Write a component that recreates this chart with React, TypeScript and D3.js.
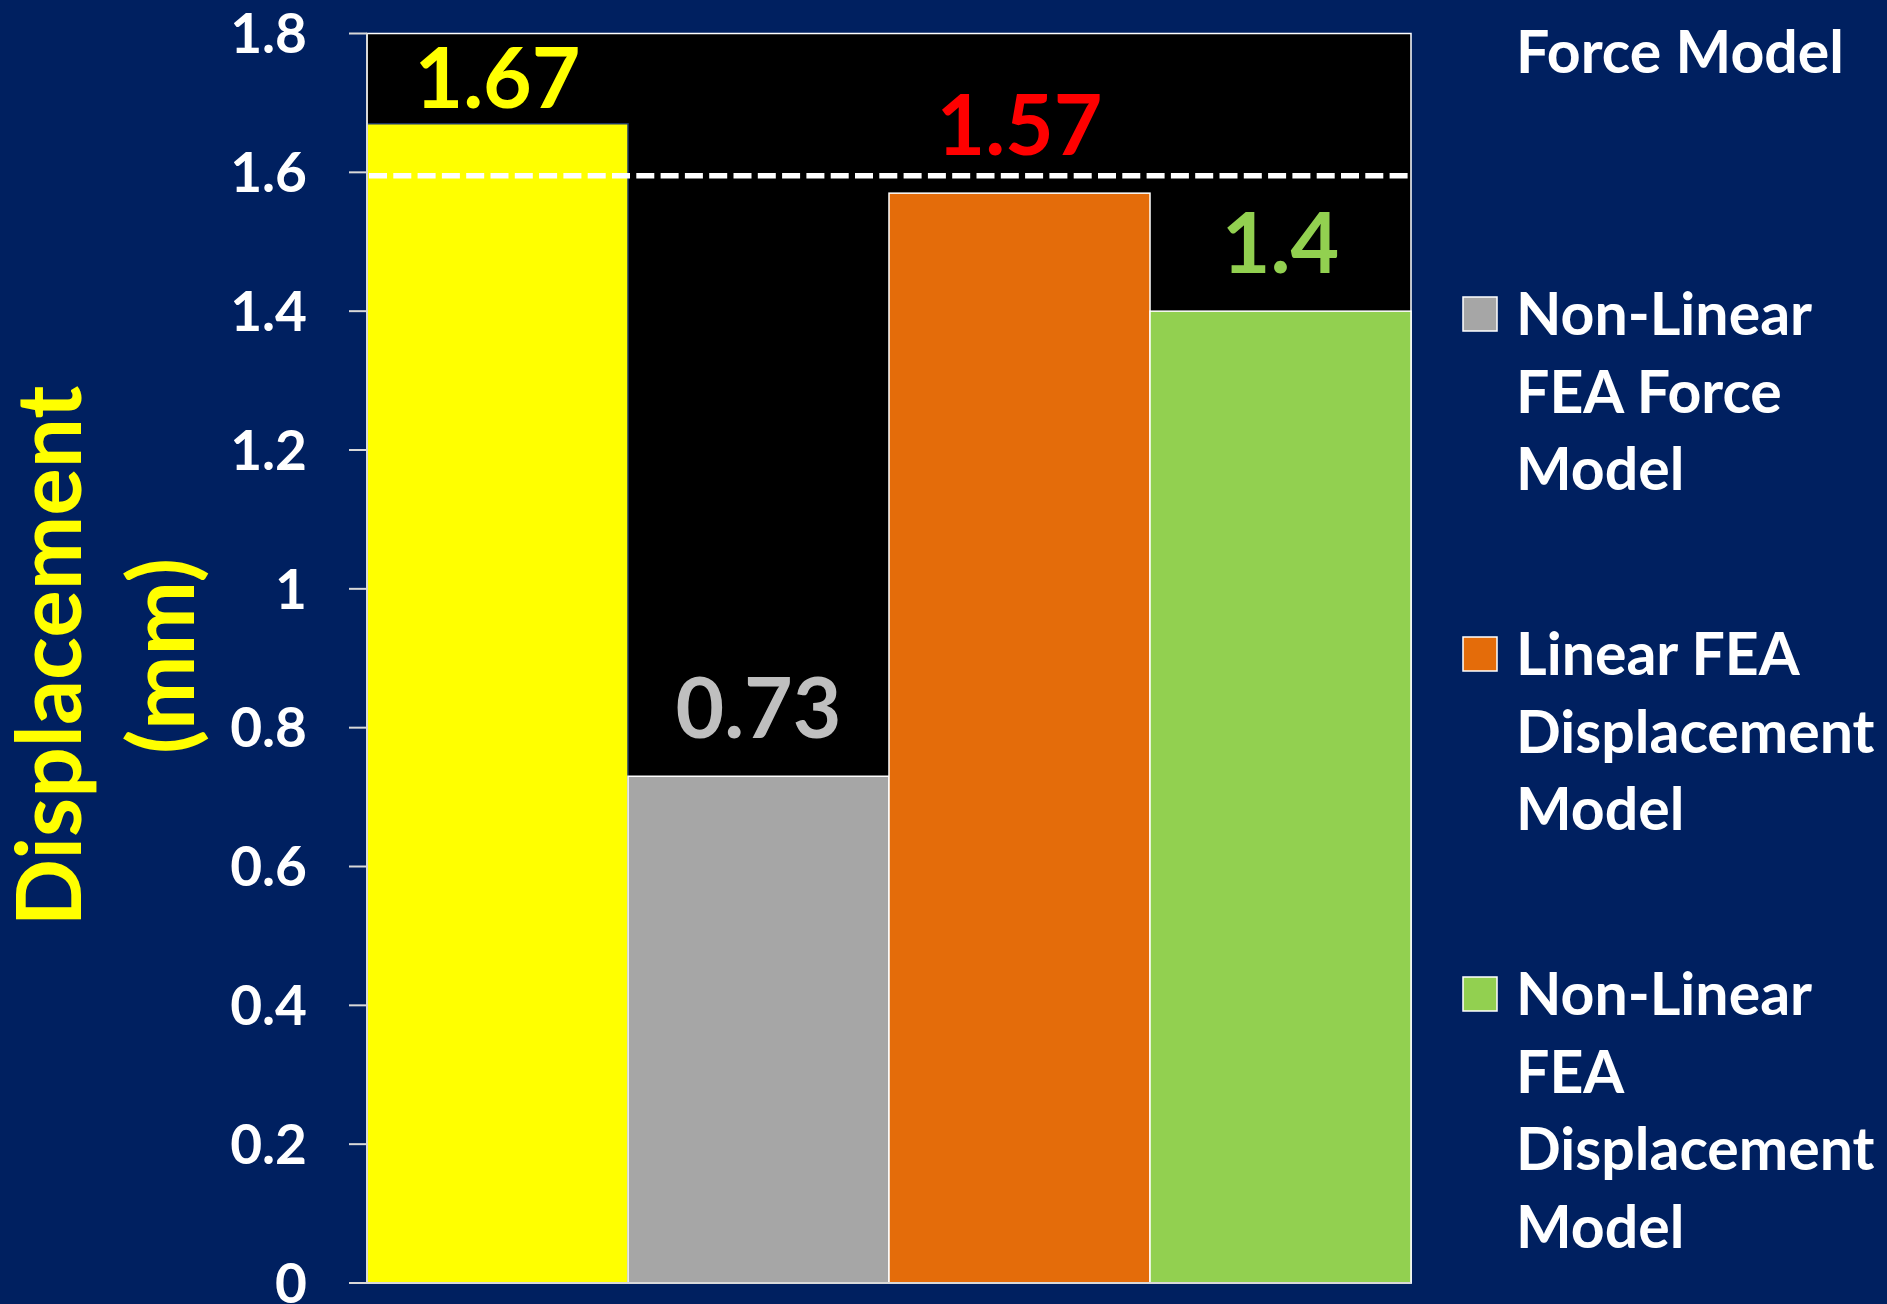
import React from "react";
import * as d3 from "d3";

const categories = [
  "Force Model",
  "Non-Linear FEA Force Model",
  "Linear FEA Displacement Model",
  "Non-Linear FEA Displacement Model",
];
const values = [1.67, 0.73, 1.57, 1.4];
const valueLabels = ["1.67", "0.73", "1.57", "1.4"];
const barColors = ["#FFFF00", "#A6A6A6", "#E46C0A", "#92D050"];
const labelColors = ["#FFFF00", "#BFBFBF", "#FF0000", "#92D050"];
const yTicks = [0, 0.2, 0.4, 0.6, 0.8, 1, 1.2, 1.4, 1.6, 1.8];
const yTickLabels = ["0", "0.2", "0.4", "0.6", "0.8", "1", "1.2", "1.4", "1.6", "1.8"];
const referenceValue = 1.595;
const axisTitleLines = ["Displacement", "(mm)"];
// legend lines per entry; first entry is partly cut off above the view (only its last line visible)
const legendLines = [
  ["Force Model"],
  ["Non-Linear", "FEA Force", "Model"],
  ["Linear FEA", "Displacement", "Model"],
  ["Non-Linear", "FEA", "Displacement", "Model"],
];
const legendLineOffset = [1, 0, 0, 0];

const W = 1887;
const H = 1304;
const FONT = "Lato, 'Open Sans', sans-serif";
const BG = "#002060";

export default function App() {
  const left = 367;
  const right = 1411;
  const top = 33.5;
  const bottom = 1283;

  const x = d3.scaleBand<string>().domain(categories).range([left, right]).padding(0);
  const y = d3.scaleLinear().domain([0, 1.8]).range([bottom, top]);

  const legendX = 1516;
  const legendStart = 335;
  const entryStep = 340;
  const lineStep = 77.6;

  return (
    <svg
      width={W}
      height={H}
      style={{ position: "absolute", left: 0, top: 0, display: "block" }}
      fontFamily={FONT}
    >
      <rect x={0} y={0} width={W} height={H} fill={BG} />
      {/* plot area */}
      <rect x={left} y={top} width={right - left} height={bottom - top} fill="#000000" stroke="#FFFFFF" strokeWidth={1.5} />

      {/* bars */}
      {categories.map((c, i) => (
        <rect
          key={c}
          x={x(c)!}
          y={y(values[i])}
          width={x.bandwidth()}
          height={bottom - y(values[i])}
          fill={barColors[i]}
          stroke={i === 0 ? "#1F3864" : "#FFFFFF"}
          strokeWidth={1.5}
        />
      ))}

      {/* axis lines */}
      <line x1={left} x2={left} y1={top} y2={bottom} stroke="#D9D9D9" strokeWidth={2} />
      <line x1={left} x2={right} y1={bottom} y2={bottom} stroke="#D9D9D9" strokeWidth={2} />

      {/* reference dashed line */}
      <line
        x1={left + 2}
        x2={right}
        y1={y(referenceValue)}
        y2={y(referenceValue)}
        stroke="#FFFFFF"
        strokeWidth={5.5}
        strokeDasharray="18 6.3"
      />

      {/* y ticks */}
      {yTicks.map((t, i) => (
        <g key={t}>
          <line x1={left - 18} x2={left} y1={y(t)} y2={y(t)} stroke="#D9D9D9" strokeWidth={2} />
          <text
            x={307}
            y={y(t)}
            dy="0.36em"
            textAnchor="end"
            fill="#FFFFFF"
            fontWeight={700}
            fontSize={55}
          >
            {yTickLabels[i]}
          </text>
        </g>
      ))}

      {/* value labels */}
      {categories.map((c, i) => (
        <text
          key={"l" + c}
          x={x(c)! + x.bandwidth() / 2}
          y={Math.max(y(values[i]) - 38, 108)}
          textAnchor="middle"
          fill={labelColors[i]}
          fontWeight={700}
          fontSize={84}
        >
          {valueLabels[i]}
        </text>
      ))}

      {/* axis title */}
      <g transform={`translate(0, 656) rotate(-90)`}>
        <text x={0} y={81} textAnchor="middle" fill="#FFFF00" fontWeight={700} fontSize={89}>
          {axisTitleLines[0]}
        </text>
        <text x={0} y={194} textAnchor="middle" fill="#FFFF00" fontWeight={700} fontSize={89}>
          {axisTitleLines[1]}
        </text>
      </g>

      {/* legend */}
      {legendLines.map((lines, i) => {
        const start = legendStart + (i - 1) * entryStep;
        const markerY = start - 38;
        return (
          <g key={"leg" + i}>
            {markerY > 0 && legendLineOffset[i] === 0 && (
              <rect x={1463} y={markerY} width={34} height={34} fill={barColors[i]} stroke="#FFFFFF" strokeWidth={1.5} />
            )}
            {lines.map((ln, j) => (
              <text
                key={j}
                x={legendX}
                y={start + (j + legendLineOffset[i]) * lineStep}
                fill="#FFFFFF"
                fontWeight={700}
                fontSize={59}
              >
                {ln}
              </text>
            ))}
          </g>
        );
      })}
    </svg>
  );
}
